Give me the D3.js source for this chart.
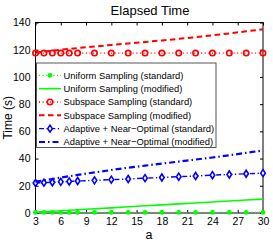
<!DOCTYPE html>
<html><head><meta charset="utf-8">
<script src="https://cdn.jsdelivr.net/npm/d3@7"></script>
<style>html,body{margin:0;padding:0;background:#fff;}svg{display:block;font-family:"Liberation Sans",Arial,sans-serif;}</style>
</head><body>
<svg id="c" width="273" height="245"></svg>
<script>
const aValues = [3,4,5,6,7,8,10,12,14,16,18,20,22,24,26,28,30];
const uniformStd = [0.4,0.4,0.4,0.4,0.4,0.4,0.4,0.4,0.4,0.4,0.4,0.4,0.4,0.4,0.4,0.4,0.4];
const uniformMod = [0.6,1.0,1.3,1.7,2.0,2.4,3.1,3.8,4.6,5.3,6.0,6.7,7.4,8.1,8.8,9.5,10.2];
const subspaceStd = [117.5,117.5,117.5,117.5,117.5,117.5,117.5,117.5,117.5,117.5,117.5,117.5,117.5,117.5,117.5,117.5,117.5];
const subspaceMod = [118,118.6,119.3,120,120.6,121.2,122.3,123.5,124.6,125.7,126.8,128,129.2,130.6,132,133.5,135];
const adaptiveStd = [22,22.3,22.6,22.9,23.2,23.5,24,24.5,25,25.6,26.1,26.7,27.2,27.8,28.3,28.8,29.3];
const adaptiveMod = [23,24,25,26,27,28,29.8,31.6,33.3,34.8,36.3,37.8,39.3,40.8,42.4,44.2,46];
const xTicks = [3,6,9,12,15,18,21,24,27,30];
const yTicks = [0,20,40,60,80,100,120,140];
const legendLabels = ["Uniform Sampling (standard)","Uniform Sampling (modified)","Subspace Sampling (standard)","Subspace Sampling (modified)","Adaptive + Near\u2212Optimal (standard)","Adaptive + Near\u2212Optimal (modified)"];

(function(){
const svg = d3.select("#c");
const L=35.5, R=263, T=22.5, B=213;
const x = d3.scaleLinear().domain([3,30]).range([L,R]);
const y = d3.scaleLinear().domain([0,140]).range([B,T]);

const series = [
  {vals:uniformStd, color:"#00ff00", dash:"1,2.6", w:1.3, marker:"dot"},
  {vals:uniformMod, color:"#00ff00", dash:null, w:1.6, marker:null},
  {vals:subspaceStd, color:"#ff0000", dash:"1,2.6", w:1.3, marker:"circle"},
  {vals:subspaceMod, color:"#ff0000", dash:"5.5,3.5", w:2, marker:null},
  {vals:adaptiveStd, color:"#0000ff", dash:"5,2.5,1.3,2.5", w:1.4, marker:"diamond"},
  {vals:adaptiveMod, color:"#0000ff", dash:"6,3,1.5,3", w:2.2, marker:null}
];

const gAxis = svg.append("g");
gAxis.append("rect").attr("x",L).attr("y",T).attr("width",R-L).attr("height",B-T)
  .attr("fill","none").attr("stroke","#000").attr("stroke-width",1);

const axB = d3.axisBottom(x).tickValues(xTicks).tickSize(-3).tickPadding(5);
const axT = d3.axisTop(x).tickValues(xTicks).tickSize(-3).tickFormat("");
const axL = d3.axisLeft(y).tickValues(yTicks).tickSize(-3).tickPadding(5);
const axR = d3.axisRight(y).tickValues(yTicks).tickSize(-3).tickFormat("");
function style(g){g.select(".domain").remove();g.selectAll("line").attr("stroke","#000");g.selectAll("text").attr("fill","#000").attr("font-size","10.5px").attr("font-family","'Liberation Sans',Arial,sans-serif");}
gAxis.append("g").attr("transform",`translate(0,${B})`).call(axB).call(style);
gAxis.append("g").attr("transform",`translate(0,${T})`).call(axT).call(style);
gAxis.append("g").attr("transform",`translate(${L},0)`).call(axL).call(style);
gAxis.append("g").attr("transform",`translate(${R},0)`).call(axR).call(style);

function drawMarker(g, type, color, cx, cy){
  if(type==="dot") g.append("circle").attr("cx",cx).attr("cy",cy).attr("r",2.4).attr("fill",color);
  else if(type==="circle") g.append("circle").attr("cx",cx).attr("cy",cy).attr("r",2.7).attr("fill","none").attr("stroke",color).attr("stroke-width",1.6);
  else if(type==="diamond") g.append("path").attr("d",`M${cx},${cy-3.5}L${cx+2.3},${cy}L${cx},${cy+3.5}L${cx-2.3},${cy}Z`).attr("fill","#fff").attr("stroke",color).attr("stroke-width",1.6);
}

const plot = svg.append("g");
const line = d3.line().x((d,i)=>x(aValues[i])).y(d=>y(d));
series.forEach(s=>{
  const p = plot.append("path").datum(s.vals).attr("d",line).attr("fill","none")
    .attr("stroke",s.color).attr("stroke-width",s.w);
  if(s.dash) p.attr("stroke-dasharray",s.dash);
  if(s.marker) s.vals.forEach((v,i)=>drawMarker(plot,s.marker,s.color,x(aValues[i]),y(v)));
});

const lg = svg.append("g");
lg.append("rect").attr("x",36.5).attr("y",63).attr("width",179.5).attr("height",84.5)
  .attr("fill","#fff").attr("stroke","#444").attr("stroke-width",0.9);
const rowY = d3.scaleLinear().domain([0,5]).range([75.3,142]);
series.forEach((s,i)=>{
  const yy = rowY(i);
  const p = lg.append("line").attr("x1",39).attr("x2",61).attr("y1",yy).attr("y2",yy)
    .attr("stroke",s.color).attr("stroke-width",s.w);
  if(s.dash) p.attr("stroke-dasharray",s.dash);
  if(s.marker) drawMarker(lg,s.marker,s.color,50,yy);
  lg.append("text").attr("x",63.5).attr("y",yy).attr("dy","0.35em")
    .attr("font-size","9.4px").attr("fill","#000").text(legendLabels[i]);
});

svg.append("text").attr("x",150).attr("y",14.5).attr("text-anchor","middle")
  .attr("font-size","13px").attr("fill","#000").text("Elapsed Time");
svg.append("text").attr("x",149).attr("y",239).attr("text-anchor","middle")
  .attr("font-size","12.5px").attr("fill","#000").text("a");
svg.append("text").attr("transform",`translate(12,${(T+B)/2}) rotate(-90)`).attr("text-anchor","middle")
  .attr("font-size","12px").attr("fill","#000").text("Time (s)");
})();
</script>
</body></html>
